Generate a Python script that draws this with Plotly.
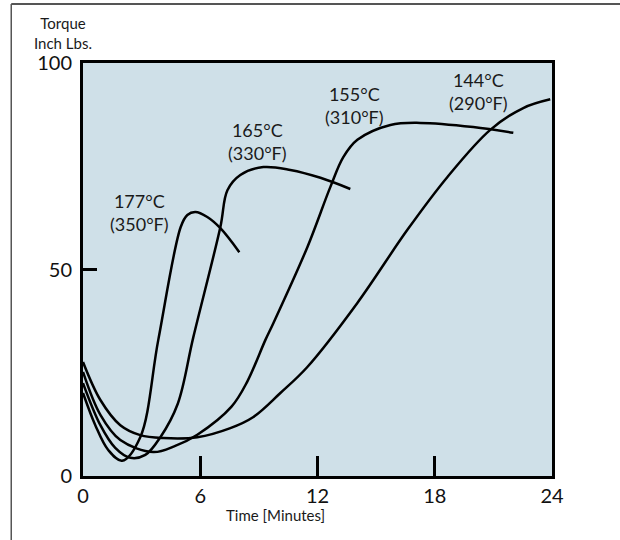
import plotly.graph_objects as go

# Time (minutes) and torque (inch-lbs)
t_177 = [0, 0.63, 1.29, 2.0, 2.93, 3.85, 5.0, 5.34, 5.75, 6.36, 7.03, 8.0]
v_177 = [20.1, 12.3, 6.3, 3.7, 9.4, 32.9, 60.3, 63.2, 63.9, 62.7, 60.0, 54.2]

t_165 = [0, 0.89, 1.65, 2.42, 3.19, 3.96, 4.85, 5.64, 7.03, 7.39, 8.05, 9.23, 10.61, 12.15, 13.68]
v_165 = [22.5, 12.3, 6.8, 4.4, 5.1, 9.4, 17.5, 33.5, 60.3, 69.2, 72.9, 74.8, 74.1, 72.2, 69.5]

t_155 = [0, 0.89, 1.91, 3.6, 4.72, 5.85, 7.6, 8.4, 9.33, 9.74, 11.48, 12.66, 13.32, 14.04, 15.73, 17.26, 19.97, 22.02]
v_155 = [25.2, 14.8, 8.7, 5.8, 7.3, 10.0, 16.8, 22.8, 32.9, 37.0, 55.4, 70.0, 77.2, 81.4, 85.0, 85.5, 84.5, 83.1]

t_144 = [0, 0.89, 1.91, 2.93, 4.11, 5.85, 7.54, 8.72, 10.1, 11.48, 14.04, 16.6, 18.65, 20.84, 22.53, 23.91]
v_144 = [27.6, 18.4, 12.3, 9.9, 9.2, 9.4, 11.6, 14.3, 20.1, 26.4, 41.9, 59.6, 72.4, 83.8, 89.1, 91.2]

x_ticks = [0, 6, 12, 18, 24]
y_ticks = [0, 50, 100]

labels = ["177°C<br>(350°F)", "165°C<br>(330°F)", "155°C<br>(310°F)", "144°C<br>(290°F)"]
label_t = [2.88, 8.92, 13.9, 20.23]
label_v = [63.8, 80.9, 89.6, 93.2]

FONT = "Lato"
fig = go.Figure()
for t, v in [(t_177, v_177), (t_165, v_165), (t_155, v_155), (t_144, v_144)]:
    fig.add_trace(go.Scatter(x=t, y=v, mode="lines",
                             line=dict(color="black", width=2.5, shape="spline", smoothing=1.0),
                             showlegend=False, hoverinfo="skip"))

for txt, tx, vy in zip(labels, label_t, label_v):
    fig.add_annotation(x=tx, y=vy, xref="x", yref="y", text=txt, showarrow=False,
                       font=dict(family=FONT, size=18, color="#1a1a1a"), align="center",
                       xanchor="center", yanchor="middle")

fig.add_annotation(x=0.411, y=-0.094, xref="paper", yref="paper", text="Time [Minutes]",
                   showarrow=False, font=dict(family=FONT, size=15, color="#1a1a1a"),
                   xanchor="center", yanchor="middle")
fig.add_annotation(x=-0.042, y=1.0726, xref="paper", yref="paper", text="Torque<br>Inch Lbs.",
                   showarrow=False, font=dict(family=FONT, size=15, color="#1a1a1a"),
                   xanchor="center", yanchor="middle", align="center")

# outer frame (top and left edges)
fig.add_shape(type="line", xref="paper", yref="paper", x0=-0.153, x1=1.2, y0=1.1429, y1=1.1429,
              line=dict(color="#555555", width=2))
fig.add_shape(type="line", xref="paper", yref="paper", x0=-0.153, x1=-0.153, y0=1.1429, y1=-0.2,
              line=dict(color="#555555", width=1.5))

fig.update_layout(
    width=620, height=540, autosize=False,
    margin=dict(l=83, r=68, t=63, b=64),
    paper_bgcolor="white", plot_bgcolor="#cfe0e8",
    font=dict(family=FONT, color="#1a1a1a"),
)
fig.update_xaxes(range=[0, 24], tickvals=x_ticks, ticktext=[str(v) for v in x_ticks],
                 ticks="inside", ticklen=20, tickwidth=2.5, tickcolor="black",
                 showline=True, linewidth=3, linecolor="black", mirror=True,
                 showgrid=False, zeroline=False, tickfont=dict(size=20, family=FONT, color="#111"))
fig.update_yaxes(range=[0, 100], tickvals=y_ticks, ticktext=[str(v) for v in y_ticks],
                 ticks="inside", ticklen=14, tickwidth=2.5, tickcolor="black",
                 showline=True, linewidth=3, linecolor="black", mirror=True,
                 showgrid=False, zeroline=False, tickfont=dict(size=20, family=FONT, color="#111"),
                 ticklabelstandoff=4)

fig.write_html("out.html")
